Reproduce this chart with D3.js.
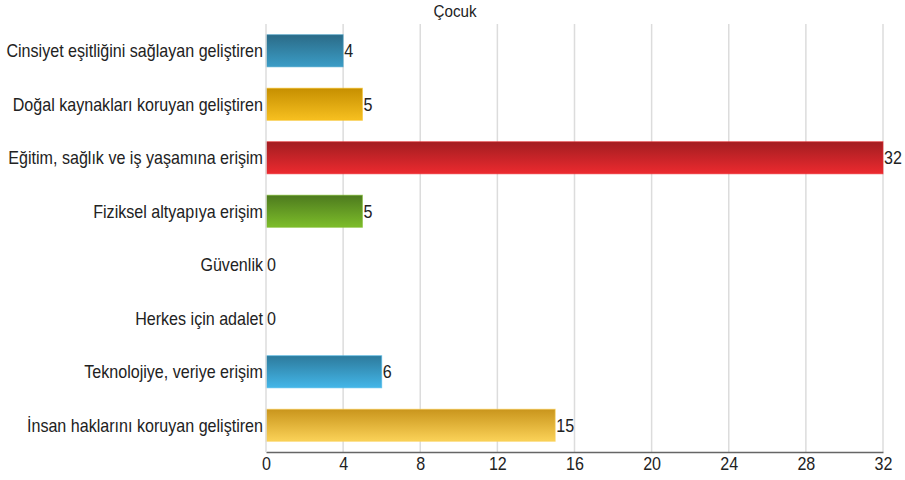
<!DOCTYPE html>
<html><head><meta charset="utf-8">
<script src="https://cdn.jsdelivr.net/npm/d3@7"></script>
<style>body{margin:0;background:#fff}svg{display:block}</style>
</head><body><svg id="c" width="905" height="480"></svg>
<script>
const title = "Çocuk";
const categories = ["Cinsiyet eşitliğini sağlayan geliştiren","Doğal kaynakları koruyan geliştiren","Eğitim, sağlık ve iş yaşamına erişim","Fiziksel altyapıya erişim","Güvenlik","Herkes için adalet","Teknolojiye, veriye erişim","İnsan haklarını koruyan geliştiren"];
const values = [4,5,32,5,0,0,6,15];
const tickValues = [0,4,8,12,16,20,24,28,32];
const colorsTop = ["#2b6b87","#c68f00","#a21d21","#4d7a1e","#2b6b87","#c68f00","#2d7a9c","#c9951c"];
const colorsBottom = ["#3b9cc6","#f7c020","#ec2a2f","#7dbd2a","#3b9cc6","#f7c020","#43b6e8","#fbd258"];

const svg = d3.select("#c");
const font = "'Liberation Sans', Arial, sans-serif";
const FS = 17.5, SX = 0.92;
const m = {left:266, right:22, top:24, bottom:28};
const W = 905, H = 480;
const x = d3.scaleLinear().domain([0,32]).range([m.left, W - m.right]);
const y = d3.scaleBand().domain(categories).range([m.top, H - m.bottom]).paddingInner(0.4).paddingOuter(0.2);

const defs = svg.append("defs");
categories.forEach((c,i)=>{
  const g = defs.append("linearGradient").attr("id","g"+i).attr("x1",0).attr("y1",0).attr("x2",0).attr("y2",1);
  g.append("stop").attr("offset","0%").attr("stop-color",colorsTop[i]);
  g.append("stop").attr("offset","100%").attr("stop-color",colorsBottom[i]);
});

// gridlines
svg.append("g").selectAll("line").data(tickValues.slice(1)).join("line")
  .attr("x1",d=>x(d)).attr("x2",d=>x(d)).attr("y1",m.top).attr("y2",H-m.bottom)
  .attr("stroke","#dcdcdc").attr("stroke-width",1.5);

// bars
svg.append("g").selectAll("rect").data(values).join("rect")
  .attr("x",x(0)).attr("y",(d,i)=>y(categories[i]))
  .attr("width",d=>x(d)-x(0)).attr("height",y.bandwidth())
  .attr("fill",(d,i)=>`url(#g${i})`)
  .attr("stroke",(d,i)=>colorsBottom[i]).attr("stroke-opacity",0.6).attr("stroke-width",1)
  .style("display",d=>d>0?null:"none");

// value labels
svg.append("g").selectAll("text").data(values).join("text")
  .attr("transform",(d,i)=>`translate(${x(d)+1},${y(categories[i])+y.bandwidth()/2}) scale(${SX},1)`)
  .attr("dy","0.36em").attr("font-family",font).attr("font-size",FS).attr("fill","#222")
  .text(d=>d);

// y axis labels
svg.append("g").selectAll("text").data(categories).join("text")
  .attr("transform",d=>`translate(${x(0)-3},${y(d)+y.bandwidth()/2}) scale(${SX},1)`)
  .attr("dy","0.36em")
  .attr("text-anchor","end").attr("font-family",font).attr("font-size",FS).attr("fill","#222")
  .text(d=>d);

// x axis
const ax = svg.append("g").attr("transform",`translate(0,${H-m.bottom})`)
  .call(d3.axisBottom(x).tickValues(tickValues).tickSize(0).tickPadding(6));
ax.select(".domain").attr("stroke","#666").attr("stroke-width",1.5);
ax.selectAll(".tick text").attr("font-family",font).attr("font-size",FS).attr("fill","#222")
  .attr("transform",`scale(${SX},1)`);

// y axis line
svg.append("line").attr("x1",x(0)).attr("x2",x(0)).attr("y1",m.top).attr("y2",H-m.bottom)
  .attr("stroke","#dcdcdc").attr("stroke-width",1.5);

svg.append("text").attr("transform",`translate(455,17) scale(0.95,1)`).attr("text-anchor","middle")
  .attr("font-family",font).attr("font-size",16).attr("fill","#222").text(title);
</script></body></html>
